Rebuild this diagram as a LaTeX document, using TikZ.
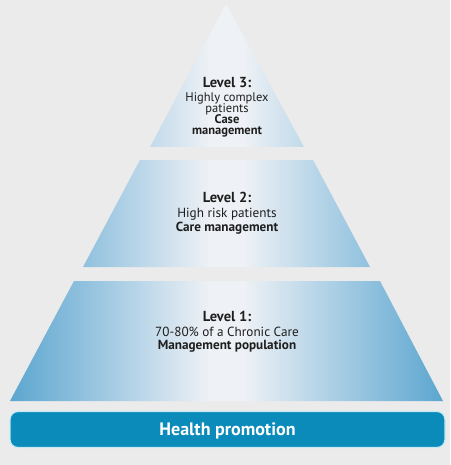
\documentclass[tikz,border=0pt]{standalone}
\usepackage{fontspec}
\setmainfont{PT Sans}
\definecolor{bgc}{RGB}{235,235,235}
\definecolor{pE}{RGB}{92,166,207}
\definecolor{pM}{RGB}{160,201,226}
\definecolor{pC}{RGB}{238,241,245}
\definecolor{barc}{RGB}{10,139,186}
\definecolor{barline}{RGB}{200,232,244}
\definecolor{txt}{RGB}{30,30,30}
\pgfdeclarehorizontalshading{pyr}{100bp}{color(0bp)=(pE); color(25bp)=(pE); color(36bp)=(pM); color(48bp)=(pC); color(52bp)=(pC); color(64bp)=(pM); color(75bp)=(pE); color(100bp)=(pE)}
\begin{document}
\begin{tikzpicture}[x=1pt,y=-1pt,
  head/.style={anchor=base,inner sep=0pt,font=\fontsize{14.5}{15}\selectfont\bfseries,text=txt},
  body/.style={anchor=base,inner sep=0pt,font=\fontsize{13.2}{14}\selectfont,text=txt},
  bodyb/.style={anchor=base,inner sep=0pt,font=\fontsize{13.2}{14}\selectfont\bfseries,text=txt},
  small/.style={anchor=base,inner sep=0pt,font=\fontsize{12.5}{13}\selectfont,text=txt},
  smallb/.style={anchor=base,inner sep=0pt,font=\fontsize{12.5}{13}\selectfont\bfseries,text=txt},
  bar/.style={draw=barline,line width=1.2pt,fill=barc,rounded corners=8pt}]
\fill[bgc] (0,0) rectangle (450,465);
% pyramid tiers, one shared horizontal shading
\shade[shading=pyr]
  (226,4) -- (304,147) -- (150,147) -- cycle
  (140,160) -- (313,160) -- (370,267) -- (83,267) -- cycle
  (74,281) -- (380,281) -- (443,401) -- (10,401) -- cycle;
% level 3
\node[head]   (l3a) at (227,87.5) {Level 3:};
\node[small]  (l3b) at (227,101.5) {Highly complex};
\node[small]  (l3c) at (227,112.5) {patients};
\node[smallb] (l3d) at (227,124) {Case};
\node[smallb] (l3e) at (227,135) {management};
% level 2
\node[head]  (l2a) at (227,202.5) {Level 2:};
\node[body]  (l2b) at (227,217) {High risk patients};
\node[bodyb] (l2c) at (227,231) {Care management};
% level 1
\node[head]  (l1a) at (227,321) {Level 1:};
\node[body]  (l1b) at (227,336) {70-80\% of a Chronic Care};
\node[bodyb] (l1c) at (227,349.5) {Management population};
% base bar
\draw[bar] (10,411.5) rectangle (445,447.5);
\node[anchor=base,inner sep=0pt,text=white,font=\fontsize{18}{19}\selectfont\bfseries] (hp) at (227.5,435.5) {Health promotion};
\end{tikzpicture}
\end{document}
